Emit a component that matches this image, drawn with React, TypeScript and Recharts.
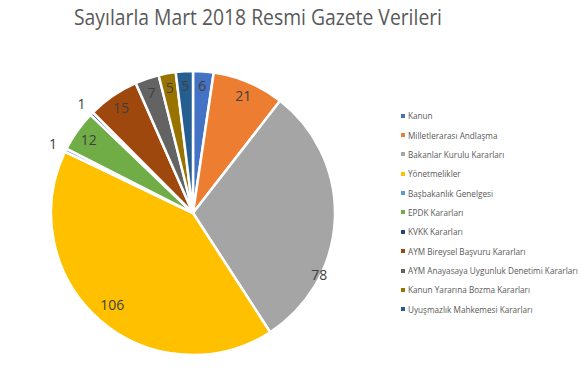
import React from 'react';
import { PieChart, Pie, Cell, Legend } from 'recharts';

const categories = [
  'Kanun',
  'Milletlerarası Andlaşma',
  'Bakanlar Kurulu Kararları',
  'Yönetmelikler',
  'Başbakanlık Genelgesi',
  'EPDK Kararları',
  'KVKK Kararları',
  'AYM Bireysel Başvuru Kararları',
  'AYM Anayasaya Uygunluk Denetimi Kararları',
  'Kanun Yararına Bozma Kararları',
  'Uyuşmazlık Mahkemesi Kararları'
];

const counts = [6, 21, 78, 106, 1, 12, 1, 15, 7, 5, 5];

const colors = [
  '#4472C4', '#ED7D31', '#A5A5A5', '#FFC000', '#5B9BD5', '#70AD47',
  '#264478', '#9E480E', '#636363', '#997300', '#255E91'
];

const TITLE = 'Sayılarla Mart 2018 Resmi Gazete Verileri';

const pieData = categories.map((name, i) => ({ name, value: counts[i], color: colors[i] }));

// label placement tweaks (Excel "best fit" moves a couple of labels)
const LABEL_ADJUST: Record<number, { angle?: number; radius: number }> = {
  2: { angle: -26, radius: 0.99 },
  3: { radius: 0.86 }
};

const RAD = Math.PI / 180;

const renderLabel = (props: any) => {
  const { cx, cy, midAngle, outerRadius, index, value } = props;
  const adj = LABEL_ADJUST[index];
  let r = value <= 1 ? outerRadius * 1.1 : outerRadius * 0.9;
  let ang = midAngle;
  if (adj) {
    r = outerRadius * adj.radius;
    if (adj.angle !== undefined) ang = adj.angle;
  }
  const x = cx + r * Math.cos(-ang * RAD);
  const y = cy + r * Math.sin(-ang * RAD);
  return (
    <text
      key={`lbl-${index}`}
      x={x}
      y={y}
      fill="#404040"
      stroke="none"
      fontSize={14}
      fontFamily="'Open Sans', sans-serif"
      textAnchor="middle"
      dominantBaseline="central"
    >
      {value}
    </text>
  );
};

// legend keeps the series order (recharts would sort it otherwise)
const renderLegend = () => (
  <div style={{ fontFamily: "'Open Sans', sans-serif", fontSize: 8.2, color: '#595959' }}>
    {pieData.map((d, i) => (
      <div key={i} style={{ display: 'flex', alignItems: 'center', height: 19.36 }}>
        <span style={{ width: 4, height: 4, backgroundColor: d.color, marginRight: 3, display: 'inline-block' }} />
        <span style={{ whiteSpace: 'nowrap', color: '#595959' }}>{d.name}</span>
      </div>
    ))}
  </div>
);

export default function App() {
  return (
    <div style={{ position: 'absolute', left: 0, top: 0, width: 588, height: 385, background: '#fff' }}>
      <svg width={588} height={40} style={{ position: 'absolute', left: 0, top: 0 }}>
        <text
          x={74}
          y={25}
          fill="#595959"
          fontSize={22}
          fontFamily="'Open Sans', sans-serif"
          textLength={368}
          lengthAdjust="spacingAndGlyphs"
        >
          {TITLE}
        </text>
      </svg>
      <PieChart width={588} height={385} margin={{ top: 0, right: 0, bottom: 0, left: 0 }}>
        <Pie
          data={pieData}
          dataKey="value"
          nameKey="name"
          cx={193}
          cy={213}
          outerRadius={142}
          startAngle={90}
          endAngle={-270}
          stroke="#ffffff"
          strokeWidth={2.5}
          label={renderLabel}
          labelLine={false}
          isAnimationActive={false}
        >
          {pieData.map((d, i) => (
            <Cell key={`cell-${i}`} fill={d.color} />
          ))}
        </Pie>
        <Legend
          layout="vertical"
          align="right"
          verticalAlign="top"
          content={renderLegend}
          wrapperStyle={{ left: 401, top: 106, width: 187 }}
        />
      </PieChart>
    </div>
  );
}
